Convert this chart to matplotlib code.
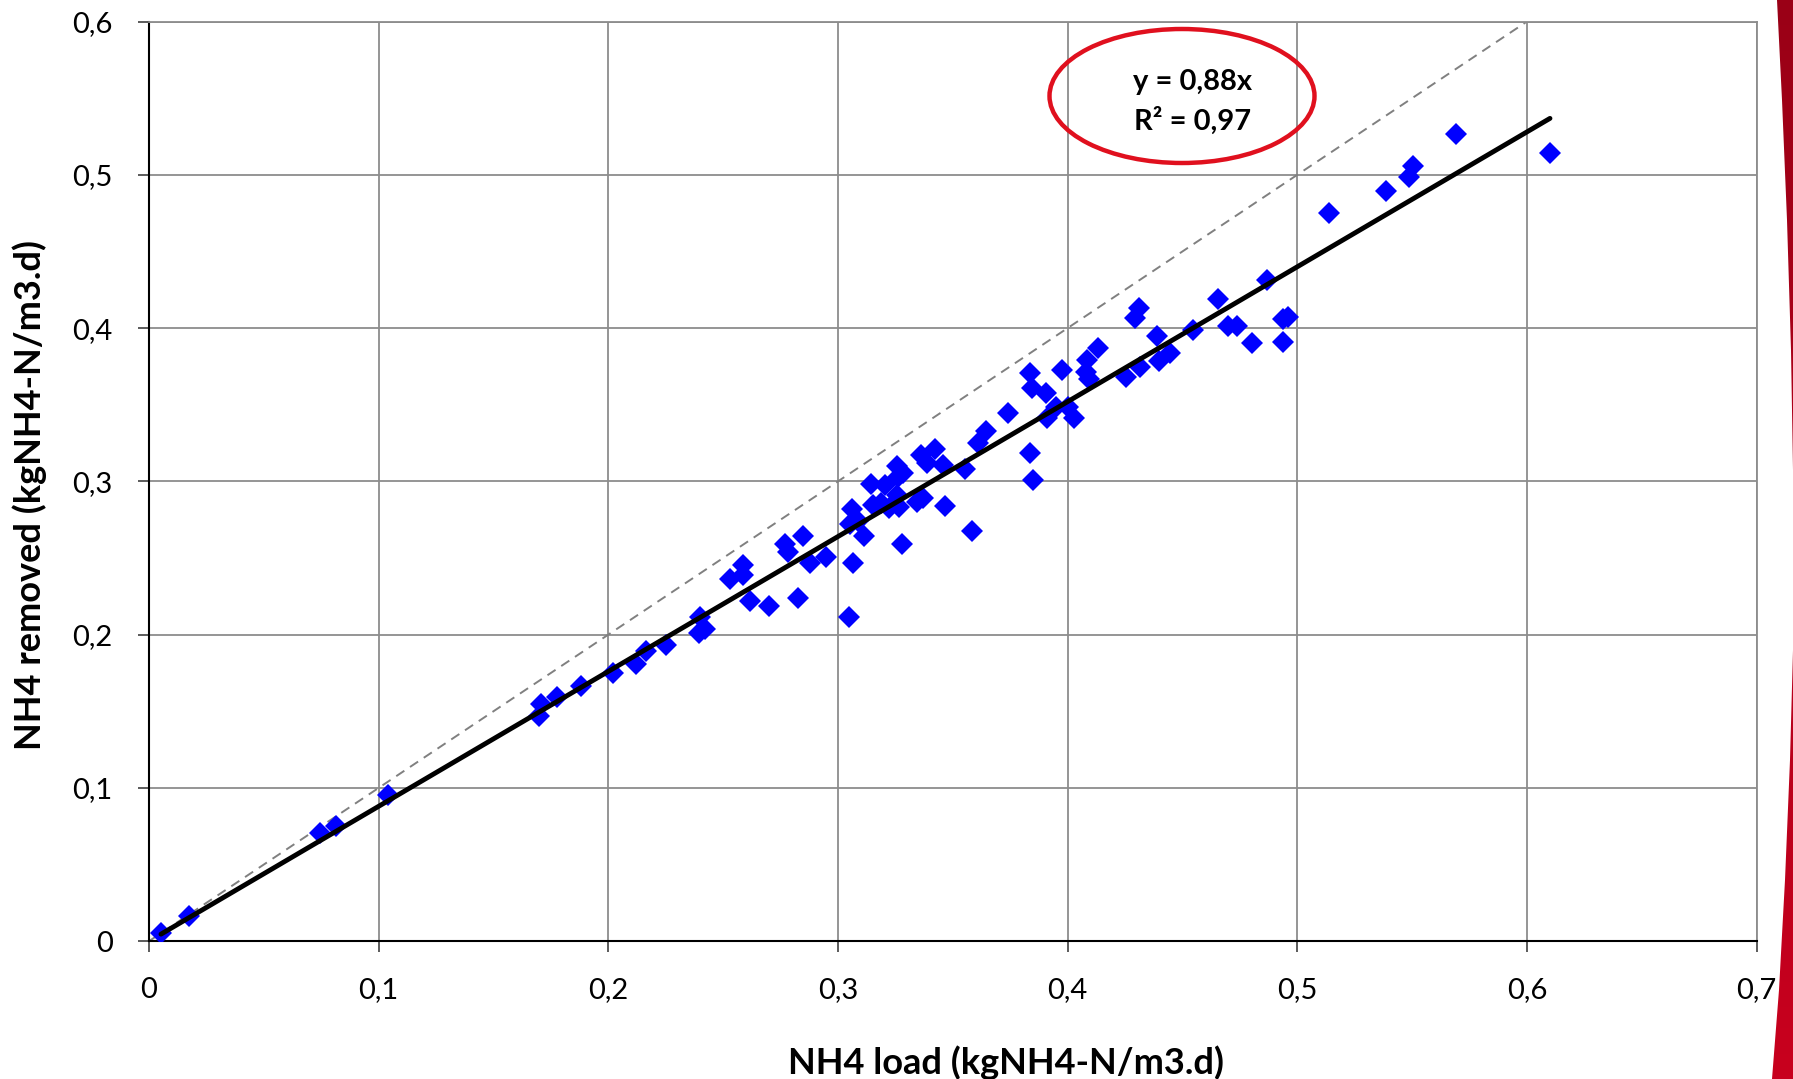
import numpy as np
import matplotlib
matplotlib.use('Agg')
import matplotlib.pyplot as plt
from matplotlib.patches import Ellipse, Polygon

plt.rcParams['font.family'] = ['Lato', 'DejaVu Sans']

# NH4 load vs NH4 removed (kgNH4-N/m3.d)
load = [0.0053, 0.0173, 0.0745, 0.0815, 0.1041, 0.170, 0.1706, 0.1775, 0.1881, 0.2021,
        0.2119, 0.2164, 0.2250, 0.2394, 0.2400, 0.2422, 0.2530, 0.2585, 0.2588, 0.2617,
        0.2699, 0.2770, 0.2784, 0.2828, 0.2850, 0.2879, 0.2948, 0.3050, 0.3053, 0.3060,
        0.3067, 0.3089, 0.3115, 0.3143, 0.3152, 0.3186, 0.3205, 0.3224, 0.3256, 0.3263,
        0.3285, 0.3267, 0.3256, 0.3280, 0.3343, 0.3369, 0.3360, 0.3387, 0.3423, 0.3456,
        0.3466, 0.3553, 0.3582, 0.3611, 0.3645, 0.3742, 0.3836, 0.3844, 0.3906, 0.3836,
        0.3850, 0.3950, 0.3909, 0.3974, 0.4000, 0.4029, 0.4086, 0.4080, 0.4094, 0.4131,
        0.4254, 0.4293, 0.4311, 0.4315, 0.4388, 0.4399, 0.4446, 0.4547, 0.4656, 0.4697,
        0.4739, 0.4804, 0.4867, 0.4936, 0.4960, 0.4936, 0.5137, 0.5384, 0.5485, 0.5505,
        0.5690, 0.6100]
removed = [0.0052, 0.0165, 0.0704, 0.0754, 0.0952, 0.1472, 0.1548, 0.1591, 0.1665, 0.1752,
           0.1809, 0.1892, 0.1930, 0.2009, 0.2113, 0.2035, 0.2361, 0.2390, 0.2455, 0.2222,
           0.2187, 0.2592, 0.2541, 0.2241, 0.2644, 0.2470, 0.2509, 0.2114, 0.2720, 0.2818,
           0.2470, 0.2742, 0.2644, 0.2983, 0.2846, 0.2857, 0.2976, 0.2824, 0.3100, 0.3030,
           0.3053, 0.2835, 0.2911, 0.2592, 0.2868, 0.2890, 0.3172, 0.3118, 0.3209, 0.3107,
           0.2840, 0.3079, 0.2676, 0.3249, 0.3331, 0.3448, 0.3709, 0.3607, 0.3579, 0.3187,
           0.3009, 0.3487, 0.3412, 0.3727, 0.3487, 0.3412, 0.3792, 0.3716, 0.3666, 0.3868,
           0.3683, 0.4064, 0.4129, 0.3744, 0.3949, 0.3787, 0.3840, 0.3988, 0.4188, 0.4014,
           0.4014, 0.3905, 0.4314, 0.4057, 0.4074, 0.3912, 0.4753, 0.4897, 0.4988, 0.5060,
           0.5266, 0.5140]

slope = 0.88
xticks = [0, 0.1, 0.2, 0.3, 0.4, 0.5, 0.6, 0.7]
yticks = [0, 0.1, 0.2, 0.3, 0.4, 0.5, 0.6]
xlabels = ['0', '0,1', '0,2', '0,3', '0,4', '0,5', '0,6', '0,7']
ylabels = ['0', '0,1', '0,2', '0,3', '0,4', '0,5', '0,6']

W, H = 1793, 1079
fig = plt.figure(figsize=(W / 100, H / 100), dpi=100)
ax = fig.add_axes([148.8 / W, 1 - 941.3 / H, 1607.9 / W, 919.8 / H])

ax.set_xlim(0, 0.7)
ax.set_ylim(0, 0.6)
ax.grid(True, color='#8c8c8c', linewidth=1.3)
ax.set_axisbelow(True)

# 1:1 line
ax.plot([0, 0.6], [0, 0.6], color='#808080', linestyle=(0, (5, 3.5)), linewidth=1.4, zorder=2)
ax.plot(load, removed, linestyle='none', marker='D', markersize=11,
        color='#0000ff', markeredgewidth=0, zorder=3)
xf = np.array([min(load), max(load)])
ax.plot(xf, slope * xf, color='black', linewidth=3.5, zorder=4, solid_capstyle='round')

ax.set_xticks(xticks)
ax.set_xticklabels(xlabels)
ax.set_yticks(yticks)
ax.set_yticklabels(ylabels)
ax.tick_params(direction='out', length=8, width=1.2, color='#404040',
               labelsize=21, pad=18)
for s in ['top', 'right']:
    ax.spines[s].set_color('#8c8c8c')
    ax.spines[s].set_linewidth(1.3)
for s in ['left', 'bottom']:
    ax.spines[s].set_color('black')
    ax.spines[s].set_linewidth(1.5)

ax.set_xlabel('NH4 load (kgNH4-N/m3.d)', fontsize=26, fontweight='bold', va='baseline')
ax.set_ylabel('NH4 removed (kgNH4-N/m3.d)', fontsize=26, fontweight='bold', va='center')
ax.xaxis.set_label_coords(0.5329, -0.1443)
ax.yaxis.set_label_coords(-0.0739, 0.4857)

# equation box
fig.patches.append(Ellipse((1182 / W, 1 - 96 / H), 265 / W, 134 / H,
                           transform=fig.transFigure, fill=False,
                           edgecolor='#e0101e', linewidth=3.2))
fig.text(1193 / W, 1 - 82 / H, 'y = 0,88x', ha='center', va='center',
         fontsize=21, fontweight='bold')
fig.text(1193 / W, 1 - 121 / H, 'R² = 0,97', ha='center', va='center',
         fontsize=21, fontweight='bold')

# red decoration at the right edge
deco = fig.add_axes([0, 0, 1, 1], zorder=-1)
deco.axis('off')
edge = [(1777, 0), (1782, 100), (1787, 220), (1791, 350), (1793, 470), (1793, 650),
        (1790, 760), (1785, 880), (1779, 990), (1772, 1079), (1793, 1079), (1793, 0)]
poly = Polygon(edge, closed=True, facecolor='none', edgecolor='none')
deco.add_patch(poly)
grad = np.linspace(0, 1, 256).reshape(-1, 1)
cmap = matplotlib.colors.LinearSegmentedColormap.from_list('r', ['#9a0016', '#c8001e'])
im = deco.imshow(grad, extent=[1765, 1793, H, 0], aspect='auto', cmap=cmap)
im.set_clip_path(poly)
deco.set_xlim(0, W)
deco.set_ylim(H, 0)

fig.savefig('out.png', dpi=100)
